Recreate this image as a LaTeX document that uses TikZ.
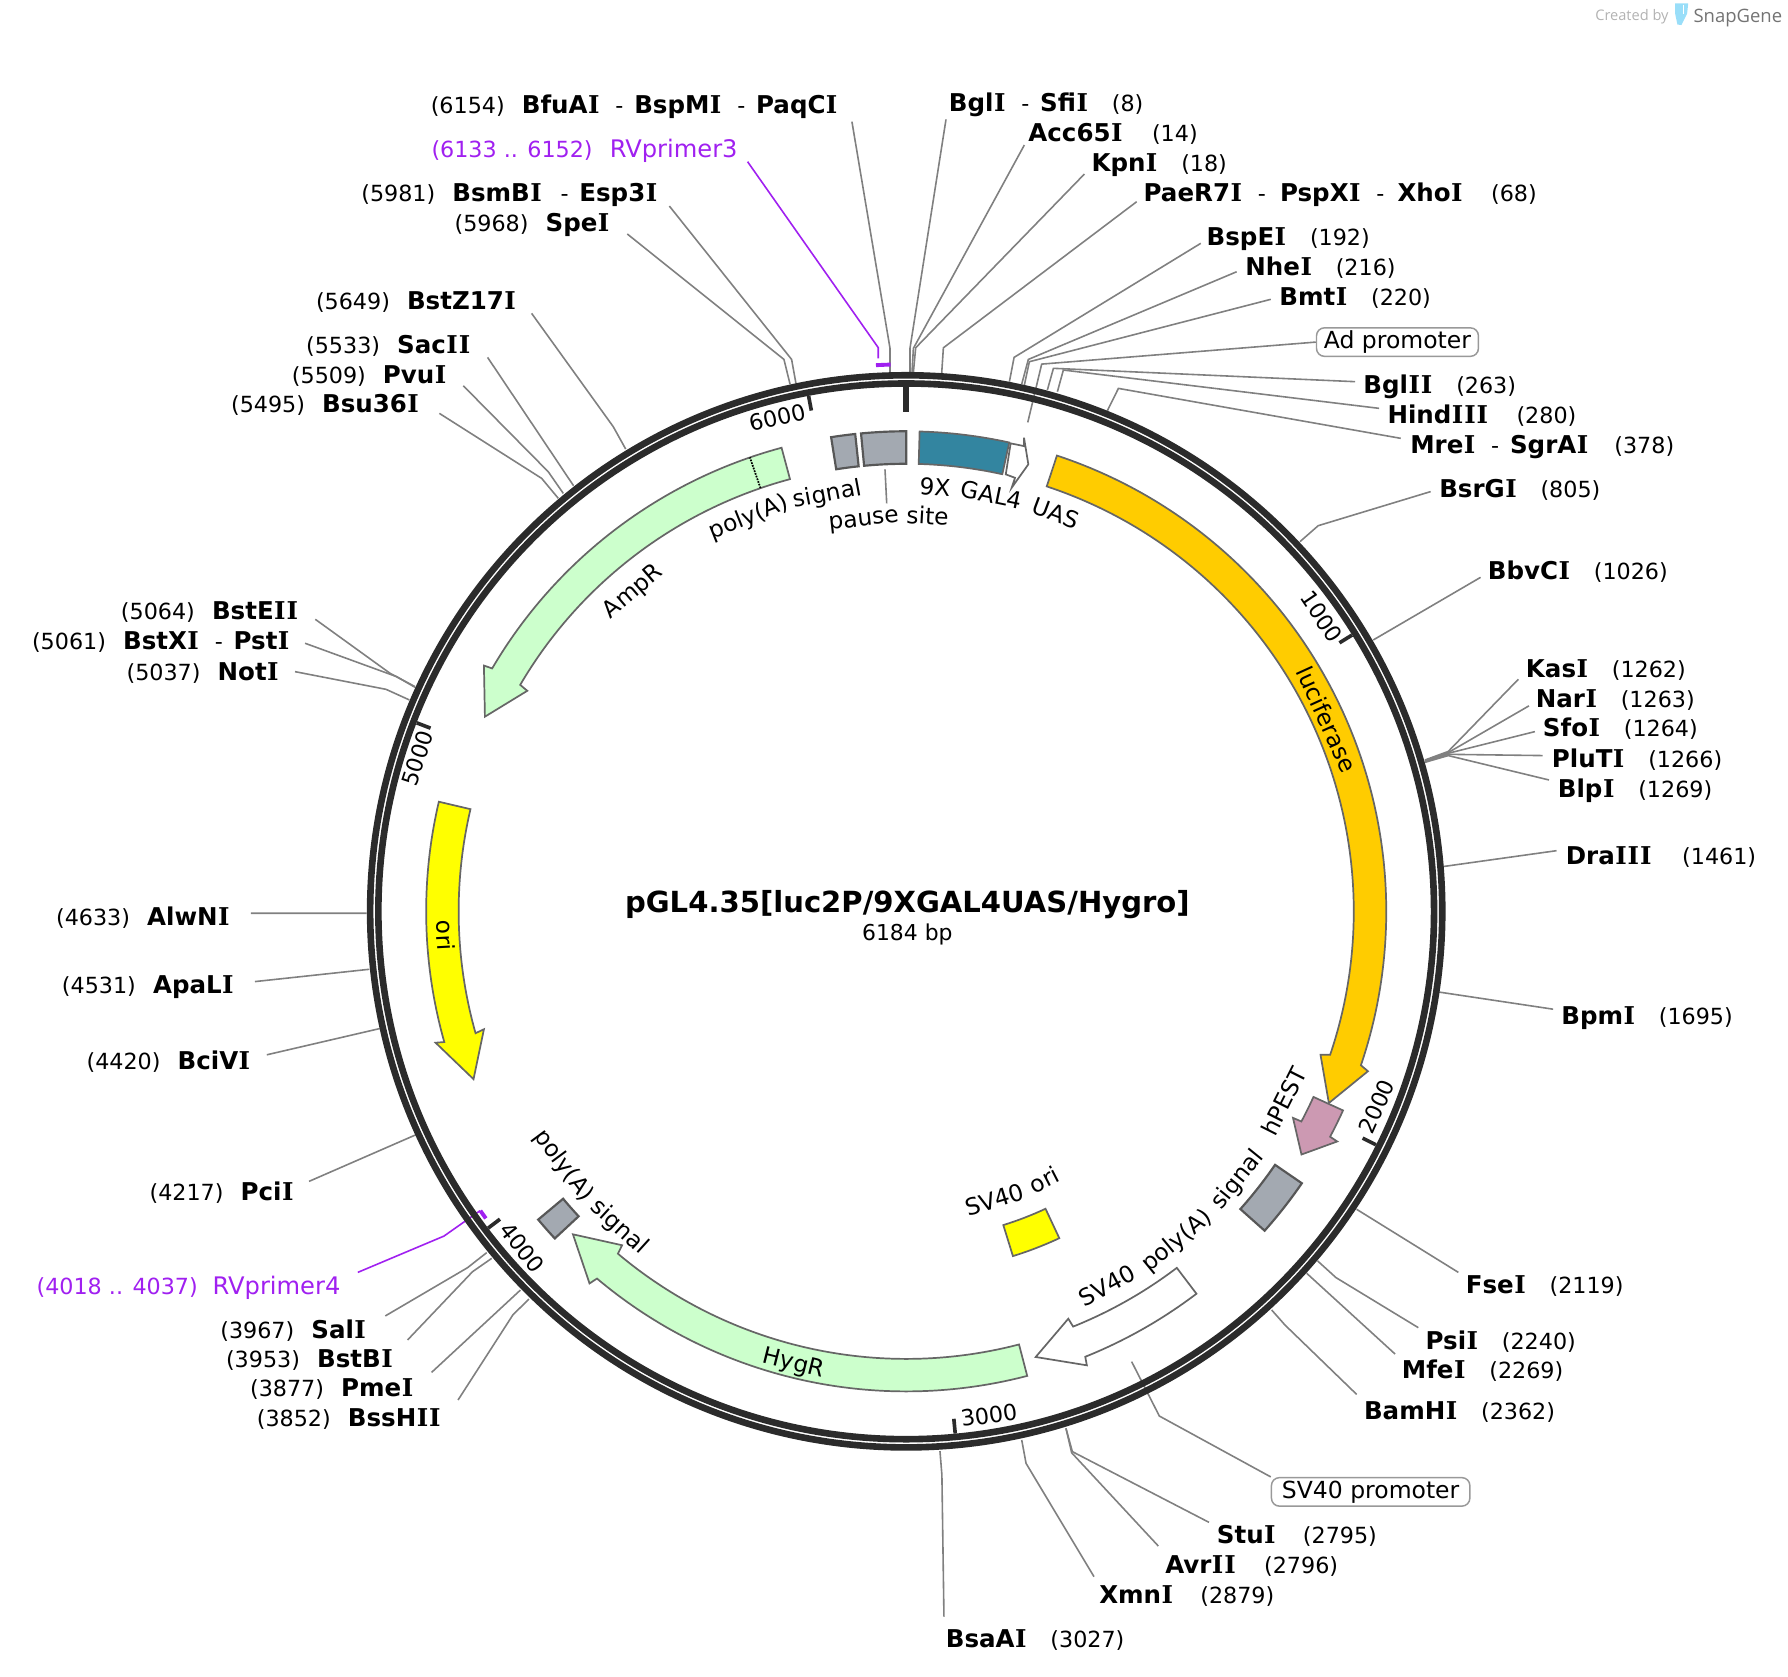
\documentclass[tikz,border=0pt]{standalone}
\usepackage{fontspec}
\setmainfont{DejaVu Sans}
\newfontfamily\brandfont{Open Sans}
\newfontfamily\slabfont{DejaVu Serif}
\definecolor{ringc}{HTML}{2B2B2B}
\definecolor{leaderc}{HTML}{808080}
\definecolor{edgec}{HTML}{666666}
\definecolor{primerc}{HTML}{A020F0}
\definecolor{markerc}{HTML}{CCFFCC}
\definecolor{lucc}{HTML}{FFCC00}
\definecolor{oric}{HTML}{FFFF00}
\definecolor{uasc}{HTML}{3385A0}
\definecolor{pestc}{HTML}{CC99B2}
\definecolor{polyc}{HTML}{A3A9B1}
\newcommand{\lblfont}{\fontsize{19.5}{22}\selectfont}
\newcommand{\wordfont}{\fontsize{20.4}{23}\selectfont}
\newcommand{\enz}[1]{{\fontsize{21.5}{24}\selectfont\bfseries #1}}
\newcommand{\sI}{{\kern.4pt\slabfont I\kern.4pt}}
\newcommand{\primer}[1]{{\fontsize{21.2}{24}\selectfont #1}}
\newcommand{\lgap}{\hspace{15pt}}
\newcommand{\rgap}{\hspace{20.5pt}}
\newcommand{\dsh}{\hspace{13.5pt}-\hspace{9.5pt}}
\newcommand{\siteL}[7][]{%
  \node[site,anchor=base east,#1] (#2) at (#3) {#4};
  \coordinate (#2b) at (#6);
  \coordinate (#2r) at (#7);
  \draw[leader,#1] ([shift={(#5)}]#2.base east) -- (#2b) -- (#2r);
}
\newcommand{\siteR}[6]{%
  \node[site,anchor=base west] (#1) at (#2) {#3};
  \coordinate (#1b) at (#5);
  \coordinate (#1r) at (#6);
  \draw[leader] ([shift={(#4)}]#1.base west) -- (#1b) -- (#1r);
}
\newcommand{\arrowfeat}[5]{%
  \draw[feature,fill=#1] ({#2-90}:421) arc[start angle=#2-90,end angle=#3-90,radius=421]
    -- ({#4-90}:428.5) -- ({#5-90}:407) -- ({#4-90}:384.5) -- ({#3-90}:392.5)
    arc[start angle=#3-90,end angle=#2-90,radius=392.5] -- cycle;
}
\newcommand{\boxfeat}[5]{%
  \draw[#1] ({#2-90}:#5) arc[start angle=#2-90,end angle=#3-90,radius=#5]
    -- ({#3-90}:#4) arc[start angle=#3-90,end angle=#2-90,radius=#4] -- cycle;
}
% words on the circle: top of the letters outward / inward
\newcommand{\wordout}[4]{\node[featword,rotate={-(#3)}] (#1) at ({#3-90}:#2) {#4};}
\newcommand{\wordin}[4]{\node[featword,rotate={180-(#3)}] (#1) at ({#3-90}:#2) {#4};}
\tikzset{
  site/.style={font=\lblfont,inner sep=0pt},
  leader/.style={color=leaderc,line width=1.4pt},
  feature/.style={draw=edgec,line width=1.5pt,line join=miter},
  graybox/.style={draw=edgec!85!black,fill=polyc,line width=1.9pt},
  tickmark/.style={color=ringc,line width=3.2pt},
  ticklabel/.style={font=\lblfont,inner sep=0pt},
  featword/.style={font=\wordfont,inner sep=0pt,anchor=base},
  promoter/.style={font=\fontsize{20.6}{23}\selectfont,draw=leaderc!80,line width=1.3pt,
    rounded corners=7pt,fill=white,inner sep=0pt,minimum height=25pt}
}
\begin{document}
\begin{tikzpicture}[x=1pt,y=-1pt]
\useasboundingbox (0,0) rectangle (1568,1470);

\siteL{bfuai}{735,99.5}{(6154)\lgap\enz{BfuA\sI}\dsh\enz{BspM\sI}\dsh\enz{PaqC\sI}}{12.1,7.2}{780.5,305.5}{780.5,326.5}
\siteL[primerc]{rvthree}{647,138}{(6133 .. 6152)\lgap\primer{RVprimer3}}{8.6,3.8}{770.2,304.9}{770.2,314.3}
\siteL{bsmbi}{577,176.9}{(5981)\lgap\enz{BsmB\sI}\hspace{2.5pt}\dsh\enz{Esp3\sI}}{10,3.8}{694.2,315.2}{698,336.2}
\siteL{spei}{535,203.2}{(5968)\lgap\enz{Spe\sI}}{15.1,2}{687.5,315.2}{692.8,336.8}
\siteL{bstz}{453,271.2}{(5649)\lgap\enz{BstZ17\sI}}{13.2,3.6}{537.8,374.2}{548.7,393.8}
\siteL{sacii}{413,309.8}{(5533)\lgap\enz{Sac\sI\sI}}{14.6,3.6}{503,426}{503,426}
\siteL{pvui}{392,336}{(5509)\lgap\enz{Pvu\sI}}{14.3,2.3}{480.8,413.7}{494,432.7}
\siteL{bsu}{368,362}{(5495)\lgap\enz{Bsu36\sI}}{17.3,.5}{475,419.5}{489.6,437}
\siteL{bsteii}{262,543.7}{(5064)\lgap\enz{BstE\sI\sI}}{14.5,-.6}{342,590.4}{363.9,602.1}
\siteL{bstxi}{254.4,569.4}{(5061)\lgap\enz{BstX\sI}\dsh\enz{Pst\sI}}{13.1,-5.3}{347.9,593.4}{363.9,602.7}
\siteL{noti}{245,596.4}{(5037)\lgap\enz{Not\sI}}{13.7,-7.4}{338.5,604.5}{359,613.8}
\siteL{alwni}{202,811.8}{(4633)\lgap\enz{AlwN\sI}}{18,-10.9}{321.5,800.9}{321.5,800.9}
\siteL{apali}{205.5,871}{(4531)\lgap\enz{ApaL\sI}}{18.1,-10.2}{323.9,850}{323.9,850}
\siteL{bcivi}{220,938}{(4420)\lgap\enz{BciV\sI}}{14,-13}{333,902}{333,902}
\siteL{pcii}{258,1053}{(4217)\lgap\enz{Pci\sI}}{13,-17}{365,995}{365,995}
\siteL[primerc]{rvfour}{298.7,1134.8}{(4018 .. 4037)\hspace{13pt}\primer{RVprimer4}}{15.1,-19}{389.3,1084}{421,1061.7}
\siteL{sali}{321.5,1173.7}{(3967)\lgap\enz{Sal\sI}}{16.4,-19.7}{410,1111.7}{426.8,1098.5}
\siteL{bstbi}{345,1199}{(3953)\lgap\enz{BstB\sI}}{12.4,-23.9}{414.4,1115.2}{431.2,1103.5}
\siteL{pmei}{363,1225}{(3877)\lgap\enz{Pme\sI}}{15.5,-21.5}{456.4,1131.3}{456.4,1131.3}
\siteL{bsshii}{387,1251}{(3852)\lgap\enz{BssH\sI\sI}}{14.7,-23.3}{449.7,1153.2}{463.8,1139.2}

\siteR{bgli}{832,98}{\enz{Bgl\sI}\dsh\enz{Sfi\sI}\rgap(8)}{-2.4,6.7}{798,305.5}{798,326.5}
\siteR{acc}{901.7,124.2}{\enz{Acc65\sI}\rgap\hspace{5pt}(14)}{-3.4,3}{801,305.5}{799.8,326.5}
\siteR{kpni}{957,150.5}{\enz{Kpn\sI}\rgap(18)}{-6,2.1}{803,305}{801,326.5}
\siteR{paer}{1002.7,176.9}{\enz{PaeR7\sI}\dsh\hspace{3pt}\enz{PspX\sI}\dsh\hspace{2pt}\enz{Xho\sI}\rgap\hspace{4pt}(68)}{-5.9,0}{827.3,305}{825.8,327.4}
\siteR{bspei}{1058,215.5}{\enz{BspE\sI}\rgap(192)}{-5,-2.1}{889.3,313.4}{885.2,334.7}
\siteR{nhei}{1092,241.8}{\enz{Nhe\sI}\rgap(216)}{-7.5,-3.5}{901.8,315.2}{896,336.8}
\siteR{bmti}{1121.8,268}{\enz{Bmt\sI}\rgap(220)}{-7.4,-5.5}{902.7,317.2}{898.3,337.7}
\siteR{bglii}{1195.5,344.9}{\enz{Bgl\sI\sI}\rgap(263)}{-7.2,-10.2}{923.8,323}{918.5,342}
\siteR{hindiii}{1216.6,371}{\enz{Hind\sI\sI\sI}\rgap\hspace{4pt}(280)}{-7.2,-12.9}{932.5,324.5}{927.3,343.5}
\siteR{mrei}{1236.6,397.5}{\enz{Mre\sI}\dsh\enz{SgrA\sI}\rgap\hspace{2pt}(378)}{-8.2,-13.1}{980.8,340.6}{971.1,360.2}
\siteR{bsrgi}{1262,436.4}{\enz{BsrG\sI}\rgap(805)}{-7.4,-5.3}{1156,461}{1140,475}
\siteR{bbvci}{1304.6,507.9}{\enz{BbvC\sI}\rgap(1026)}{-6.2,-1.6}{1204.3,561.2}{1204.3,561.2}
\siteR{kasi}{1338,593.9}{\enz{Kas\sI}\rgap(1262)}{-6.5,1.8}{1270,659}{1249.6,666.5}
\siteR{nari}{1346.7,620}{\enz{Nar\sI}\rgap(1263)}{-5.9,-1}{1270,660}{1249.6,667}
\siteR{sfoi}{1352.9,646}{\enz{Sfo\sI}\rgap(1264)}{-6.9,-4.4}{1270,660.6}{1249.6,667.6}
\siteR{pluti}{1360.8,672.8}{\enz{PluT\sI}\rgap(1266)}{-8,-10.2}{1270,661.5}{1249.6,668.2}
\siteR{blpi}{1366,699}{\enz{Blp\sI}\rgap(1269)}{-7.6,-15}{1270,662.6}{1249.6,668.5}
\siteR{draiii}{1373,758.5}{\enz{Dra\sI\sI\sI}\rgap\hspace{6pt}(1461)}{-8,-12.5}{1265,760}{1265,760}
\siteR{bpmi}{1369,898.5}{\enz{Bpm\sI}\rgap(1695)}{-7,-13.5}{1262,870}{1262,870}
\siteR{fsei}{1285.3,1134}{\enz{Fse\sI}\rgap(2119)}{-6.4,-18.2}{1189.7,1060.5}{1189.7,1060.5}
\siteR{psii}{1250,1183.5}{\enz{Psi\sI}\rgap(2240)}{-6.2,-19.2}{1171.6,1120.4}{1155.5,1105.8}
\siteR{mfei}{1229.2,1209}{\enz{Mfe\sI}\rgap(2269)}{-5.8,-21.6}{1145.9,1116.6}{1145.9,1116.6}
\siteR{bamhi}{1196,1244.6}{\enz{BamH\sI}\rgap(2362)}{-6.3,-21.8}{1126.9,1162}{1115.2,1148.8}
\siteR{stui}{1067,1353.4}{\enz{Stu\sI}\rgap\hspace{3pt}(2795)}{-6.8,-18.4}{940.4,1273}{934.8,1252.6}
\siteR{avrii}{1021.7,1379.6}{\enz{Avr\sI\sI}\rgap\hspace{4pt}(2796)}{-5.9,-23.8}{939.8,1274}{934.8,1252.6}
\siteR{xmni}{963.8,1406}{\enz{Xmn\sI}\rgap\hspace{3pt}(2879)}{-4.4,-23.3}{899.8,1283.3}{896,1262.8}
\siteR{bsaai}{829.3,1444.6}{\enz{BsaA\sI}\rgap(3027)}{-1.5,-26.9}{826,1293.5}{824.3,1272.5}

\node[promoter,minimum width=142pt] (adprom) at (1225.5,300) {Ad promoter};
\coordinate (adpromb) at (913.5,319.3);
\coordinate (adpromr) at (901.3,370.4);
\draw[leader] (adprom.west) -- (adpromb) -- (adpromr);
\node[promoter,minimum width=174pt] (svprom) at (1202,1308.3) {SV40 promoter};
\coordinate (svpromb) at (1016.7,1241.8);
\coordinate (svpromr) at (992.4,1194.1);
\draw[leader] (svprom.north west) -- (svpromb) -- (svpromr);

\begin{scope}[shift={(794.7,799.2)}]
\draw[ringc,line width=5.8pt] (0,0) circle[radius=470.1];
\draw[ringc,line width=5.8pt] (0,0) circle[radius=462.9];
\draw[ringc,line width=5.2pt] (-90:460) -- (-90:438);
\foreach \b in {1000,2000,...,6000} {
  \pgfmathsetmacro\ang{\b*0.058215-90}
  \draw[tickmark] (\ang:460) -- (\ang:447);
}
\draw[primerc,line width=3.4pt] ({-3.17-90}:479.7) arc[start angle=-3.17-90,end angle=-1.64-90,radius=479.7];
\draw[primerc,line width=3.4pt] ({234.9-90}:456.5) arc[start angle=234.9-90,end angle=233.85-90,radius=456.5];

\arrowfeat{lucc}{18.3}{108.7}{109.1}{114.4}
\arrowfeat{pestc}{114.5}{118}{118.1}{121.6}
\arrowfeat{white}{142.8}{158.1}{158.3}{163.8}
\arrowfeat{markerc}{165.4}{220.1}{220.4}{225.9}
\arrowfeat{oric}{283.2}{254.2}{254.4}{248.8}
\arrowfeat{markerc}{-15.05}{-59.6}{-59.8}{-65.2}
\draw[densely dotted,line width=1.5pt] ({-19-90}:392.5) -- ({-19-90}:421);
\boxfeat{graybox}{-5.4}{0}{392.5}{421}
\boxfeat{graybox}{-9}{-6.1}{392.5}{421}
\boxfeat{graybox}{124.5}{131.7}{392.5}{421}
\boxfeat{graybox}{227.05}{230.05}{392.5}{421}
\boxfeat{feature,fill=uasc}{1.6}{12.4}{392.5}{421}
\boxfeat{feature,fill=oric}{154.9}{162.8}{288}{316.5}

\wordout{uasa}{365.5}{3.9}{9X}
\wordout{uasb}{365.5}{11.6}{GAL4}
\wordout{uasc}{365.5}{20.6}{UAS}
\wordout{pasa}{366}{-21.8}{poly(A)}
\wordout{pasb}{366}{-10.7}{signal}
\wordout{pausea}{340}{-6.2}{pause}
\wordout{pauseb}{340}{3.1}{site}
\wordout{ampr}{363}{-40.5}{AmpR}
\wordout{luc}{398}{65.5}{luciferase}
\wordin{hpest}{378}{116.7}{hPEST}
\wordin{svpa}{380}{151.8}{SV40}
\wordin{svpb}{380}{140.6}{poly(A)}
\wordin{svpc}{380}{129}{signal}
\wordin{hygr}{414.5}{194}{HygR}
\wordin{svoa}{272}{163}{SV40}
\wordin{svob}{272}{152.8}{ori}
\wordin{lpaa}{380}{233.4}{poly(A)}
\wordin{lpab}{380}{222.3}{signal}
\wordin{ori}{412}{267}{ori}
\coordinate (pausel) at (-18.6,-387.6);
\coordinate (pauses) at (-17.1,-357.8);
\draw[leader] (pausel) -- (pauses);
\end{scope}
\draw[feature,fill=white] (886.3,388.8) -- (898,391.2) -- (898,383.8) -- (901.8,407.2)
  -- (887.2,427.7) -- (890.1,419) -- (882,416) -- cycle;

\foreach \b/\x/\y/\r in {1000/1159/540.8/-56,2000/1207.3/970.5/66,3000/867.3/1240.9/8,
  4000/458/1094.2/-52,5000/366/665/72,6000/682/366/13}
  \node[ticklabel,rotate=\r] (tick\b) at (\x,\y) {\b};

\node[anchor=base,inner sep=0pt,font=\fontsize{25.5}{28}\selectfont\bfseries] (title) at (795.7,800.5) {pGL4.35[luc2P/9XGAL4UAS/Hygro]};
\node[anchor=base,inner sep=0pt,font=\fontsize{19.2}{21}\selectfont] (size) at (795.7,824.5) {6184 bp};

\node[anchor=base west,inner sep=0pt,text=black!30,font=\brandfont\fontsize{12.8}{14}\selectfont] (created) at (1398.8,18.3) {Created by};
\node[anchor=base west,inner sep=0pt,text=black!55,font=\brandfont\fontsize{16.2}{18}\selectfont] (snapgene) at (1485,19.3) {SnapGene};
\fill[cyan!40!white] (1469,3) -- (1480.5,3) -- (1479.5,12) -- (1474.5,22) -- (1471,21.5) -- (1469,12) -- cycle;
\draw[white,line width=.8pt] (1476,4) -- (1476,12);
\end{tikzpicture}
\end{document}
